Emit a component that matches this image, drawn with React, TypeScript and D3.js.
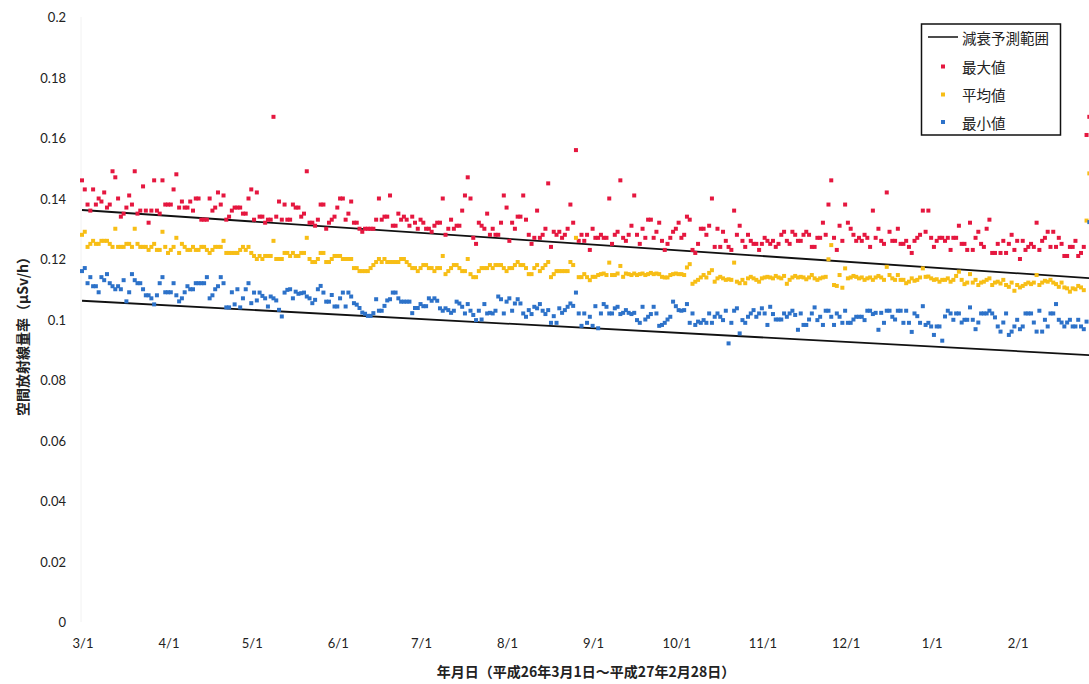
import React from "react";
import * as d3 from "d3";

// ---- data (daily values, 2014-03-01 .. 2015-02-28) ----
const startDate = new Date(Date.UTC(2014, 2, 1));
const endDate = new Date(Date.UTC(2015, 1, 28));

const maxValues: number[] = [
  // Mar
  0.146, 0.143, 0.138, 0.136, 0.143, 0.138, 0.140, 0.139, 0.142, 0.137, 0.138, 0.149, 0.147, 0.140, 0.134, 0.135, 0.137, 0.141, 0.138, 0.149, 0.135, 0.136, 0.144, 0.136, 0.132, 0.136, 0.146, 0.136, 0.135, 0.146, 0.138,
  // Apr
  0.138, 0.138, 0.143, 0.148, 0.137, 0.139, 0.137, 0.137, 0.139, 0.136, 0.140, 0.140, 0.133, 0.133, 0.133, 0.140, 0.136, 0.137, 0.142, 0.138, 0.141, 0.133, 0.134, 0.136, 0.137, 0.137, 0.137, 0.135, 0.135, 0.140,
  // May
  0.143, 0.133, 0.142, 0.134, 0.134, 0.132, 0.133, 0.133, 0.167, 0.134, 0.139, 0.133, 0.138, 0.133, 0.133, 0.138, 0.137, 0.137, 0.134, 0.135, 0.149, 0.132, 0.132, 0.131, 0.133, 0.138, 0.138, 0.130, 0.132, 0.133, 0.134,
  // Jun
  0.137, 0.140, 0.140, 0.133, 0.135, 0.139, 0.132, 0.132, 0.130, 0.129, 0.130, 0.130, 0.130, 0.130, 0.133, 0.140, 0.133, 0.134, 0.134, 0.141, 0.131, 0.131, 0.135, 0.133, 0.134, 0.133, 0.131, 0.134, 0.132, 0.130,
  // Jul
  0.133, 0.132, 0.130, 0.130, 0.129, 0.131, 0.132, 0.132, 0.140, 0.128, 0.130, 0.133, 0.130, 0.131, 0.131, 0.136, 0.141, 0.147, 0.140, 0.127, 0.125, 0.132, 0.131, 0.130, 0.135, 0.128, 0.130, 0.128, 0.128, 0.132, 0.141,
  // Aug
  0.137, 0.126, 0.132, 0.130, 0.134, 0.134, 0.141, 0.133, 0.128, 0.125, 0.127, 0.136, 0.127, 0.128, 0.130, 0.145, 0.124, 0.129, 0.128, 0.129, 0.127, 0.128, 0.130, 0.138, 0.132, 0.156, 0.126, 0.128, 0.126, 0.128, 0.123,
  // Sep
  0.130, 0.127, 0.127, 0.128, 0.127, 0.127, 0.140, 0.125, 0.128, 0.129, 0.146, 0.127, 0.126, 0.128, 0.131, 0.141, 0.128, 0.125, 0.130, 0.127, 0.133, 0.133, 0.127, 0.129, 0.132, 0.126, 0.123, 0.125, 0.127, 0.129,
  // Oct
  0.130, 0.132, 0.127, 0.128, 0.134, 0.133, 0.123, 0.122, 0.125, 0.130, 0.130, 0.128, 0.131, 0.140, 0.124, 0.130, 0.124, 0.129, 0.126, 0.124, 0.123, 0.136, 0.128, 0.131, 0.126, 0.124, 0.128, 0.126, 0.125, 0.125, 0.123,
  // Nov
  0.125, 0.127, 0.126, 0.125, 0.126, 0.124, 0.125, 0.128, 0.129, 0.126, 0.125, 0.129, 0.128, 0.126, 0.126, 0.128, 0.129, 0.128, 0.124, 0.124, 0.127, 0.127, 0.132, 0.128, 0.138, 0.146, 0.127, 0.123, 0.131, 0.126,
  // Dec
  0.138, 0.132, 0.130, 0.128, 0.126, 0.127, 0.126, 0.128, 0.127, 0.124, 0.136, 0.127, 0.130, 0.126, 0.125, 0.142, 0.129, 0.126, 0.126, 0.130, 0.125, 0.125, 0.126, 0.124, 0.122, 0.126, 0.127, 0.128, 0.136, 0.129, 0.136,
  // Jan
  0.127, 0.124, 0.126, 0.127, 0.127, 0.126, 0.127, 0.123, 0.127, 0.127, 0.131, 0.125, 0.125, 0.123, 0.132, 0.123, 0.127, 0.129, 0.125, 0.124, 0.130, 0.133, 0.122, 0.122, 0.125, 0.122, 0.126, 0.122, 0.125, 0.128, 0.123,
  // Feb
  0.126, 0.120, 0.126, 0.123, 0.124, 0.125, 0.124, 0.132, 0.123, 0.126, 0.127, 0.129, 0.124, 0.129, 0.124, 0.127, 0.125, 0.121, 0.121, 0.124, 0.124, 0.126, 0.121, 0.122, 0.124, 0.161, 0.167, 0.125,
];

const avgValues: number[] = [
  // Mar
  0.128, 0.129, 0.124, 0.125, 0.126, 0.125, 0.125, 0.126, 0.126, 0.126, 0.125, 0.124, 0.130, 0.124, 0.124, 0.124, 0.125, 0.125, 0.124, 0.130, 0.125, 0.124, 0.124, 0.124, 0.123, 0.124, 0.125, 0.123, 0.123, 0.129, 0.124,
  // Apr
  0.122, 0.123, 0.124, 0.127, 0.122, 0.125, 0.124, 0.123, 0.123, 0.124, 0.123, 0.123, 0.124, 0.124, 0.123, 0.122, 0.123, 0.124, 0.124, 0.124, 0.126, 0.122, 0.122, 0.122, 0.122, 0.122, 0.123, 0.124, 0.123, 0.124,
  // May
  0.122, 0.121, 0.120, 0.121, 0.120, 0.121, 0.121, 0.121, 0.126, 0.120, 0.120, 0.120, 0.122, 0.122, 0.121, 0.122, 0.121, 0.121, 0.122, 0.122, 0.127, 0.120, 0.119, 0.119, 0.120, 0.122, 0.122, 0.119, 0.119, 0.120, 0.121,
  // Jun
  0.121, 0.121, 0.120, 0.120, 0.120, 0.120, 0.117, 0.117, 0.116, 0.116, 0.116, 0.116, 0.117, 0.118, 0.119, 0.120, 0.119, 0.120, 0.119, 0.119, 0.119, 0.119, 0.119, 0.120, 0.120, 0.119, 0.118, 0.117, 0.117, 0.116,
  // Jul
  0.117, 0.118, 0.118, 0.117, 0.117, 0.116, 0.117, 0.117, 0.121, 0.115, 0.116, 0.117, 0.118, 0.118, 0.117, 0.116, 0.116, 0.120, 0.115, 0.114, 0.114, 0.116, 0.117, 0.117, 0.117, 0.118, 0.117, 0.118, 0.118, 0.118, 0.117,
  // Aug
  0.116, 0.117, 0.117, 0.118, 0.119, 0.118, 0.118, 0.117, 0.115, 0.115, 0.117, 0.118, 0.116, 0.117, 0.118, 0.119, 0.114, 0.115, 0.116, 0.116, 0.116, 0.116, 0.116, 0.119, 0.118, 0.127, 0.114, 0.114, 0.115, 0.114, 0.113,
  // Sep
  0.1141, 0.1141, 0.1147, 0.115, 0.1152, 0.1147, 0.1188, 0.1147, 0.1147, 0.1152, 0.1177, 0.1141, 0.1152, 0.115, 0.1147, 0.1152, 0.1147, 0.115, 0.1152, 0.1147, 0.115, 0.1154, 0.115, 0.1152, 0.115, 0.1141, 0.1139, 0.1139, 0.1147, 0.115,
  // Oct
  0.1152, 0.115, 0.115, 0.1147, 0.1172, 0.1183, 0.1118, 0.1125, 0.1131, 0.1139, 0.1147, 0.1139, 0.1154, 0.1163, 0.1125, 0.1136, 0.1141, 0.1136, 0.1131, 0.1133, 0.1131, 0.1188, 0.1125, 0.112, 0.1131, 0.112, 0.1136, 0.1141, 0.1136, 0.1131, 0.1125,
  // Nov
  0.1136, 0.1139, 0.1141, 0.1139, 0.1136, 0.1144, 0.1139, 0.1136, 0.1144, 0.1118, 0.1131, 0.1139, 0.1144, 0.1139, 0.1141, 0.1139, 0.1133, 0.1139, 0.1147, 0.1136, 0.1131, 0.1136, 0.1139, 0.1141, 0.1199, 0.1246, 0.1114, 0.1111, 0.1147, 0.1105,
  // Dec
  0.1169, 0.1136, 0.1139, 0.1144, 0.1141, 0.1136, 0.1139, 0.1131, 0.1136, 0.1139, 0.1131, 0.1139, 0.1144, 0.1139, 0.1131, 0.1174, 0.1147, 0.1136, 0.1131, 0.1147, 0.1131, 0.1131, 0.112, 0.1125, 0.1136, 0.1128, 0.1131, 0.1139, 0.1169, 0.1141, 0.1142,
  // Jan
  0.1136, 0.1131, 0.1133, 0.1125, 0.1131, 0.1131, 0.1136, 0.1125, 0.1131, 0.1144, 0.1158, 0.1131, 0.1117, 0.1122, 0.115, 0.1122, 0.1131, 0.1114, 0.1122, 0.1125, 0.1131, 0.1136, 0.1114, 0.1122, 0.1125, 0.1119, 0.1131, 0.1114, 0.1108, 0.1122, 0.1095,
  // Feb
  0.1114, 0.1106, 0.1111, 0.1117, 0.1122, 0.1117, 0.1122, 0.1147, 0.1114, 0.1122, 0.1128, 0.1125, 0.1131, 0.1122, 0.1117, 0.1108, 0.1122, 0.1106, 0.1103, 0.1092, 0.1103, 0.11, 0.1111, 0.1106, 0.1097, 0.1327, 0.1483, 0.11,
];

const minValues: number[] = [
  // Mar
  0.116, 0.117, 0.112, 0.114, 0.111, 0.111, 0.109, 0.114, 0.113, 0.115, 0.112, 0.111, 0.110, 0.111, 0.110, 0.113, 0.106, 0.109, 0.115, 0.113, 0.112, 0.112, 0.110, 0.108, 0.108, 0.107, 0.105, 0.108, 0.112, 0.114, 0.109,
  // Apr
  0.109, 0.109, 0.112, 0.108, 0.106, 0.107, 0.109, 0.111, 0.110, 0.110, 0.112, 0.112, 0.112, 0.112, 0.114, 0.107, 0.108, 0.110, 0.111, 0.114, 0.112, 0.104, 0.104, 0.109, 0.105, 0.110, 0.104, 0.107, 0.110, 0.112,
  // May
  0.1054, 0.1089, 0.1063, 0.1089, 0.1078, 0.107, 0.1043, 0.1076, 0.107, 0.1063, 0.1032, 0.101, 0.1089, 0.1098, 0.11, 0.107, 0.1092, 0.1085, 0.1087, 0.1089, 0.1076, 0.107, 0.1054, 0.1065, 0.11, 0.1111, 0.1089, 0.1059, 0.1059, 0.1081, 0.1043,
  // Jun
  0.1043, 0.107, 0.1089, 0.1043, 0.1089, 0.1076, 0.1054, 0.1049, 0.1038, 0.1023, 0.1019, 0.1012, 0.1012, 0.1021, 0.1067, 0.1029, 0.1029, 0.1045, 0.1063, 0.1067, 0.1089, 0.1089, 0.107, 0.1059, 0.1059, 0.1059, 0.1059, 0.1021, 0.1038, 0.1038,
  // Jul
  0.1051, 0.1044, 0.1044, 0.107, 0.1062, 0.107, 0.1062, 0.1037, 0.1029, 0.1037, 0.1031, 0.1022, 0.1029, 0.1059, 0.1053, 0.1042, 0.102, 0.1051, 0.1029, 0.1015, 0.0998, 0.1029, 0.1, 0.1051, 0.102, 0.1022, 0.102, 0.1029, 0.1076, 0.1067, 0.102,
  // Aug
  0.1059, 0.107, 0.1029, 0.1053, 0.1067, 0.1053, 0.102, 0.1009, 0.1031, 0.1018, 0.1042, 0.1037, 0.1051, 0.1029, 0.1018, 0.1031, 0.0989, 0.1011, 0.0989, 0.1037, 0.1022, 0.1031, 0.1042, 0.1053, 0.1045, 0.1089, 0.102, 0.0979, 0.102, 0.0989, 0.1009,
  // Sep
  0.0979, 0.1044, 0.0971, 0.102, 0.1051, 0.1042, 0.102, 0.102, 0.1037, 0.1042, 0.1018, 0.1022, 0.1031, 0.1022, 0.1018, 0.1022, 0.0998, 0.0989, 0.1042, 0.1, 0.1009, 0.1018, 0.1042, 0.102, 0.0979, 0.0982, 0.0989, 0.1, 0.1009, 0.1059,
  // Oct
  0.1044, 0.1031, 0.1029, 0.1031, 0.1051, 0.0989, 0.102, 0.0982, 0.0993, 0.0989, 0.0998, 0.0989, 0.102, 0.0989, 0.1009, 0.102, 0.1009, 0.0998, 0.1029, 0.0921, 0.0989, 0.1029, 0.1037, 0.0954, 0.0998, 0.0989, 0.1009, 0.102, 0.1031, 0.1009, 0.102,
  // Nov
  0.1037, 0.102, 0.0982, 0.1042, 0.1018, 0.1, 0.1, 0.1, 0.102, 0.1009, 0.102, 0.1029, 0.1015, 0.0966, 0.102, 0.0982, 0.0982, 0.1, 0.102, 0.104, 0.0998, 0.1009, 0.0982, 0.1029, 0.1029, 0.1009, 0.0982, 0.102, 0.1009, 0.0989,
  // Dec
  0.1029, 0.0989, 0.0989, 0.1, 0.1009, 0.1009, 0.1009, 0.0998, 0.1029, 0.1029, 0.1018, 0.1022, 0.0966, 0.1022, 0.0989, 0.1029, 0.1029, 0.1009, 0.1, 0.1029, 0.1029, 0.0989, 0.1029, 0.0989, 0.0959, 0.102, 0.1011, 0.0989, 0.1044, 0.0982, 0.0989,
  // Jan
  0.0977, 0.0949, 0.0977, 0.0977, 0.093, 0.101, 0.1029, 0.102, 0.0999, 0.102, 0.102, 0.099, 0.0999, 0.0999, 0.104, 0.0999, 0.0968, 0.099, 0.102, 0.102, 0.102, 0.1029, 0.102, 0.1007, 0.0977, 0.096, 0.099, 0.102, 0.0949, 0.096, 0.0977,
  // Feb
  0.0999, 0.0968, 0.0977, 0.102, 0.102, 0.102, 0.099, 0.096, 0.1029, 0.096, 0.0999, 0.0977, 0.102, 0.102, 0.1051, 0.0999, 0.099, 0.0977, 0.099, 0.0999, 0.0977, 0.0977, 0.0999, 0.0977, 0.0968, 0.0993, 0.1322, 0.099,
];

// decay prediction range: start / end values of the two bounding lines
const decayUpper: number[] = [0.1362, 0.1136];
const decayLower: number[] = [0.1062, 0.0882];

const yTickValues: number[] = [0, 0.02, 0.04, 0.06, 0.08, 0.1, 0.12, 0.14, 0.16, 0.18, 0.2];

const seriesNames = ["最大値", "平均値", "最小値"];
const seriesColors = ["#E5173F", "#F7BE16", "#2D72C9"];
const lineLegend = "減衰予測範囲";
const xTitle = "年月日（平成26年3月1日～平成27年2月28日）";
const yTitle = "空間放射線量率（μSv/h）";

const W = 1089;
const H = 684;

export default function App() {
  const x = d3
    .scaleUtc()
    .domain([startDate, endDate])
    .range([82, 82 + 364 * 2.775]);
  const y = d3.scaleLinear().domain([0, 0.2]).range([622, 17]);

  const dayDate = (i: number) => d3.utcDay.offset(startDate, i);
  const monthTicks = d3.utcMonth.range(startDate, d3.utcDay.offset(endDate, 1));
  const fmtX = d3.utcFormat("%-m/%-d");
  const fmtY = d3.format("~g");

  const allSeries = [maxValues, avgValues, minValues];
  const line = d3
    .line<[Date, number]>()
    .x((d) => x(d[0]))
    .y((d) => y(d[1]));
  const decayPath = (v: number[]) =>
    line([
      [startDate, v[0]],
      [endDate, v[1]],
    ]) || "";

  const tickFont = "Lato, 'Open Sans', sans-serif";
  const cjkFont = "'Noto Sans CJK JP', 'Noto Sans', sans-serif";
  const ms = 4;

  const legendX = 921.5;
  const legendY = 24;
  const legendRows = [37, 66.5, 94.5, 122];

  return (
    <svg
      width={W}
      height={H}
      style={{ position: "absolute", left: 0, top: 0, background: "#fff" }}
    >
      <rect x={0} y={0} width={W} height={H} fill="#fff" />
      {/* faint plot edge */}
      <line x1={81} x2={81} y1={17} y2={622} stroke="#f2f2f2" strokeWidth={1} />

      {/* y tick labels */}
      {yTickValues.map((t) => (
        <text
          key={"y" + t}
          x={66}
          y={y(t)}
          textAnchor="end"
          dominantBaseline="central"
          fontFamily={tickFont}
          fontSize={13}
          fill="#222"
        >
          {fmtY(t)}
        </text>
      ))}

      {/* x tick labels */}
      {monthTicks.map((d) => (
        <text
          key={"x" + d.getTime()}
          x={x(d) + 1}
          y={648}
          textAnchor="middle"
          fontFamily={tickFont}
          fontSize={13}
          fill="#222"
        >
          {fmtX(d)}
        </text>
      ))}

      {/* decay lines */}
      <path d={decayPath(decayUpper)} stroke="#111" strokeWidth={1.8} fill="none" />
      <path d={decayPath(decayLower)} stroke="#111" strokeWidth={1.8} fill="none" />

      {/* points */}
      {allSeries.map((vals, si) => (
        <g key={"s" + si} fill={seriesColors[si]}>
          {vals.map((v, i) => (
            <rect
              key={i}
              x={x(dayDate(i)) - ms / 2}
              y={y(v) - ms / 2}
              width={ms}
              height={ms}
            />
          ))}
        </g>
      ))}

      {/* axis titles */}
      <text
        x={586}
        y={671}
        textAnchor="middle"
        dominantBaseline="central"
        fontFamily={cjkFont}
        fontWeight="bold"
        fontSize={14}
        fill="#222"
      >
        {xTitle}
      </text>
      <text
        transform={`translate(22,333) rotate(-90)`}
        textAnchor="middle"
        dominantBaseline="central"
        fontFamily={cjkFont}
        fontWeight="bold"
        fontSize={14}
        fill="#222"
      >
        {yTitle}
      </text>

      {/* legend */}
      <rect
        x={legendX}
        y={legendY}
        width={139}
        height={111}
        fill="#fff"
        stroke="#111"
        strokeWidth={1.5}
      />
      <line x1={928} x2={958} y1={legendRows[0]} y2={legendRows[0]} stroke="#111" strokeWidth={1.5} />
      <text
        x={962}
        y={legendRows[0]}
        dominantBaseline="central"
        fontFamily={cjkFont}
        fontSize={14.5}
        fill="#222"
      >
        {lineLegend}
      </text>
      {seriesNames.map((n, i) => (
        <g key={n}>
          <rect
            x={943 - ms / 2}
            y={legendRows[i + 1] - ms / 2}
            width={ms}
            height={ms}
            fill={seriesColors[i]}
          />
          <text
            x={962}
            y={legendRows[i + 1]}
            dominantBaseline="central"
            fontFamily={cjkFont}
            fontSize={14.5}
            fill="#222"
          >
            {n}
          </text>
        </g>
      ))}
    </svg>
  );
}
